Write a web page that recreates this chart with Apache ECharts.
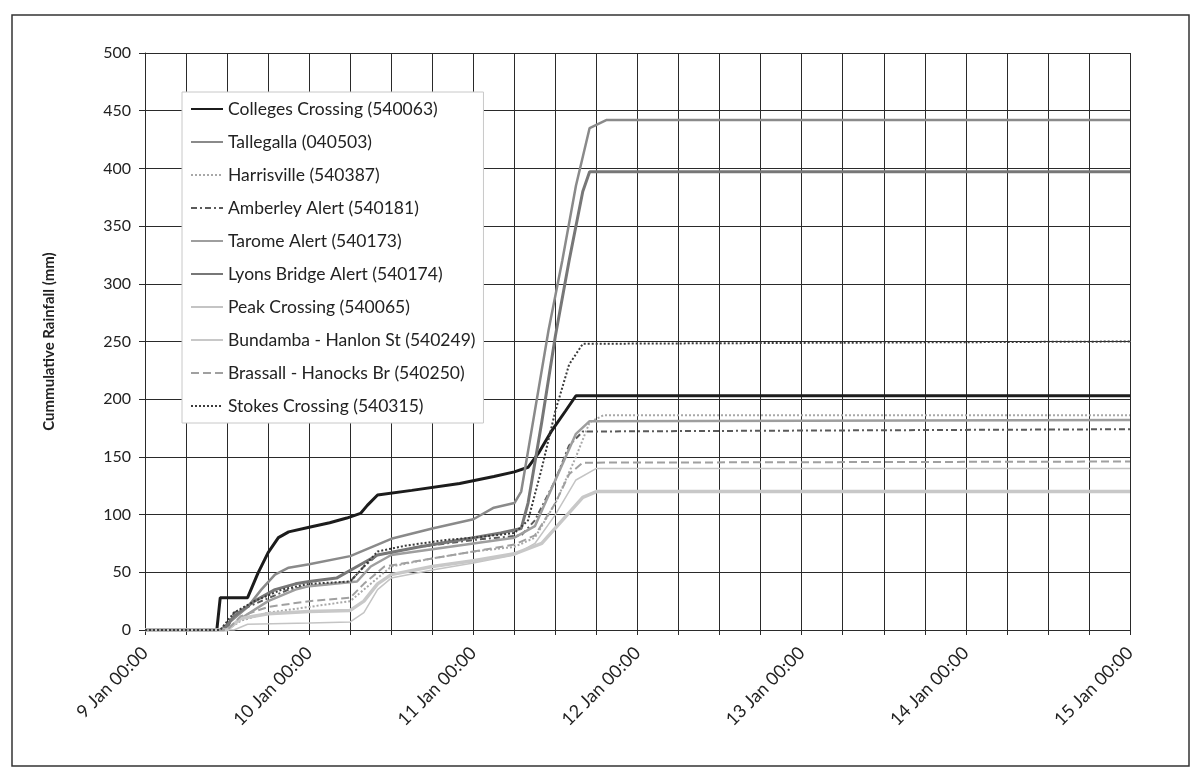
<!DOCTYPE html>
<html>
<head>
<meta charset="utf-8">
<title>Cummulative Rainfall</title>
<script src="https://cdn.jsdelivr.net/npm/echarts@6/dist/echarts.min.js"></script>
<style>
    html, body { margin: 0; padding: 0; background: #fff; }
    #rainfall_chart { width: 1200px; height: 781px; }
</style>
</head>
<body>
<div id="rainfall_chart"></div>
<script>
// x = hours after 9 Jan 00:00, y = cumulative rainfall (mm)
var dayLabels = ['9 Jan 00:00', '10 Jan 00:00', '11 Jan 00:00', '12 Jan 00:00', '13 Jan 00:00', '14 Jan 00:00', '15 Jan 00:00'];

var seriesNames = [
    'Colleges Crossing (540063)',
    'Tallegalla (040503)',
    'Harrisville (540387)',
    'Amberley Alert (540181)',
    'Tarome Alert (540173)',
    'Lyons Bridge Alert (540174)',
    'Peak Crossing (540065)',
    'Bundamba - Hanlon St (540249)',
    'Brassall - Hanocks Br (540250)',
    'Stokes Crossing (540315)'
];

var collegesCrossing = [[0, 0], [10.5, 0], [11, 28], [15, 28], [16.5, 49], [18, 67], [19.5, 80], [21, 85], [24, 89], [27, 93], [29.5, 97], [31.5, 101], [32.5, 108], [34, 117], [39, 121], [46, 127], [51, 133], [54, 137], [56, 141], [57.5, 153], [59.5, 173], [61.5, 190], [63, 203], [144, 203]];
var tallegalla = [[0, 0], [11, 0], [13, 10], [15, 20], [17, 35], [19, 48], [21, 54], [24, 57], [30, 64], [34, 74], [36, 79], [42, 88], [48, 96], [51, 106], [54, 110], [55, 120], [57, 190], [59, 260], [61, 320], [63, 385], [65, 435], [67.5, 442], [144, 442]];
var harrisville = [[0, 0], [12, 0], [14, 8], [18, 15], [24, 20], [30, 25], [33, 40], [36, 55], [42, 62], [48, 68], [54, 72], [57, 80], [60, 110], [63, 150], [65, 180], [67, 186], [144, 186]];
var amberleyAlert = [[0, 0], [12, 0], [13, 15], [17, 25], [21, 35], [24, 38], [30, 42], [32, 55], [34, 65], [40, 72], [48, 78], [55, 82], [57, 95], [60, 130], [62, 160], [64, 172], [144, 174]];
var taromeAlert = [[0, 0], [12, 0], [14, 10], [18, 25], [22, 35], [24, 38], [31, 42], [33, 55], [36, 65], [42, 70], [48, 75], [54, 80], [57, 90], [60, 130], [63, 170], [65, 181], [144, 182]];
var lyonsBridgeAlert = [[0, 0], [11.5, 0], [13, 12], [16, 25], [19, 35], [22, 40], [24, 42], [28, 45], [31, 55], [34, 65], [40, 72], [46, 78], [48, 80], [52, 84], [55, 88], [56, 110], [58, 180], [60, 255], [62, 320], [64, 380], [65, 397], [144, 397]];
var peakCrossing = [[0, 0], [13, 0], [15, 5], [24, 6], [30, 7], [32, 15], [34, 35], [36, 45], [42, 52], [48, 58], [54, 65], [57, 75], [60, 100], [63, 130], [66, 140], [144, 140]];
var bundamba = [[0, 0], [12, 0], [14, 10], [18, 14], [24, 16], [30, 17], [32, 25], [34, 40], [36, 48], [42, 55], [48, 60], [54, 66], [58, 75], [61, 95], [64, 115], [66, 120], [144, 120]];
var brassall = [[0, 0], [12, 0], [14, 12], [18, 20], [24, 25], [30, 28], [32, 40], [35, 55], [42, 62], [48, 68], [54, 74], [57, 82], [60, 110], [62, 135], [64, 145], [144, 146]];
var stokesCrossing = [[0, 0], [11, 0], [13, 15], [16, 25], [20, 35], [24, 40], [30, 42], [32, 55], [34, 68], [38, 73], [44, 78], [48, 80], [54, 84], [56, 95], [58, 140], [60, 190], [62, 230], [64, 248], [144, 250]];

var seriesData = [collegesCrossing, tallegalla, harrisville, amberleyAlert, taromeAlert, lyonsBridgeAlert, peakCrossing, bundamba, brassall, stokesCrossing];

// grey scan look: colour, width, dash
var seriesStyles = [
    {color: '#1c1c1c', width: 3, type: 'solid'},
    {color: '#8a8a8a', width: 2.5, type: 'solid'},
    {color: '#a8a8a8', width: 2, type: 'dotted'},
    {color: '#5a5a5a', width: 2, type: [6, 3, 2, 3]},
    {color: '#9e9e9e', width: 2.5, type: 'solid'},
    {color: '#777777', width: 3, type: 'solid'},
    {color: '#c4c4c4', width: 1.5, type: 'solid'},
    {color: '#c8c8c8', width: 3.5, type: 'solid'},
    {color: '#a0a0a0', width: 2, type: 'dashed'},
    {color: '#3a3a3a', width: 2, type: 'dotted'}
];

var series = [];
for (var i = 0; i < seriesNames.length; i++) {
    series.push({
        name: seriesNames[i],
        type: 'line',
        data: seriesData[i],
        showSymbol: false,
        symbol: 'none',
        color: seriesStyles[i].color,
        lineStyle: {
            color: seriesStyles[i].color,
            width: seriesStyles[i].width,
            type: seriesStyles[i].type
        }
    });
}

var gridColor = '#2a2a2a';

var option = {
    animation: false,
    backgroundColor: '#fff',
    textStyle: {
        fontFamily: 'Lato, "Noto Sans", sans-serif',
        color: '#222'
    },
    graphic: [
        {
            type: 'rect',
            shape: {x: 12, y: 15, width: 1177, height: 751},
            style: {fill: 'none', stroke: '#333', lineWidth: 1.5}
        }
    ],
    grid: {
        left: 145,
        right: 70,
        top: 53,
        bottom: 151
    },
    legend: {
        orient: 'vertical',
        left: 182,
        top: 92,
        padding: [8, 8, 8, 8],
        backgroundColor: '#fff',
        borderColor: '#c8c8c8',
        borderWidth: 1,
        itemWidth: 32,
        itemHeight: 14,
        itemGap: 15,
        itemStyle: {opacity: 0},
        data: seriesNames,
        textStyle: {
            fontSize: 17.5,
            color: '#222',
            fontFamily: 'Lato, "Noto Sans", sans-serif'
        }
    },
    xAxis: {
        type: 'value',
        min: 0,
        max: 144,
        interval: 24,
        axisLine: {show: true, lineStyle: {color: gridColor}},
        axisTick: {show: true, length: 5, lineStyle: {color: gridColor}},
        minorTick: {show: true, splitNumber: 4, length: 5, lineStyle: {color: gridColor}},
        splitLine: {show: true, lineStyle: {color: gridColor, width: 1}},
        minorSplitLine: {show: true, lineStyle: {color: gridColor, width: 1}},
        axisLabel: {
            rotate: 45,
            margin: 20,
            fontSize: 18,
            color: '#222',
            formatter: function (value) {
                return dayLabels[Math.round(value / 24)];
            }
        }
    },
    yAxis: {
        type: 'value',
        min: 0,
        max: 500,
        interval: 50,
        name: 'Cummulative Rainfall (mm)',
        nameLocation: 'middle',
        nameGap: 88,
        nameTextStyle: {
            fontSize: 15,
            fontWeight: 'bold',
            color: '#222'
        },
        axisLine: {show: true, lineStyle: {color: gridColor}},
        axisTick: {show: true, length: 6, lineStyle: {color: gridColor}},
        splitLine: {show: true, lineStyle: {color: gridColor, width: 1}},
        axisLabel: {
            margin: 14,
            fontSize: 16,
            color: '#222'
        }
    },
    series: series
};

var rainfall_chart = echarts.init(document.getElementById('rainfall_chart'));
rainfall_chart.setOption(option);
</script>
</body>
</html>
